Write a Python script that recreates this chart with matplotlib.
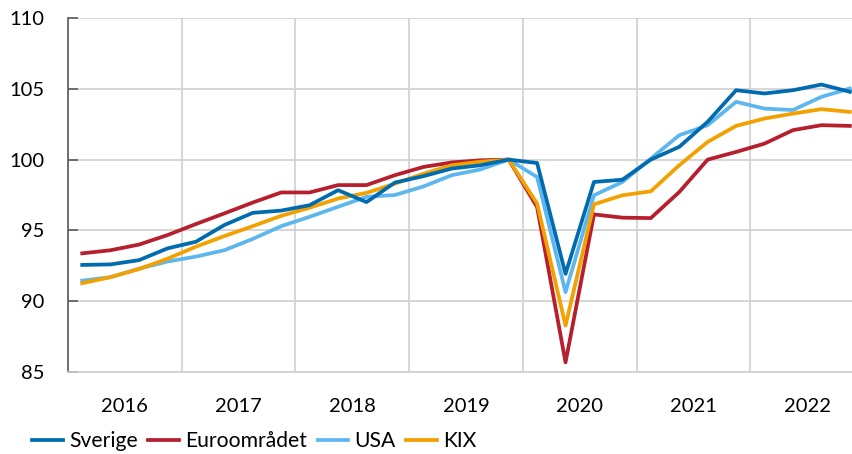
import matplotlib
matplotlib.use("Agg")
import matplotlib.pyplot as plt
import numpy as np

plt.rcParams['font.family'] = ['Lato', 'DejaVu Sans']

# quarterly index, 2019Q4 = 100, 2016Q1 - 2022Q4
years = ['2016', '2017', '2018', '2019', '2020', '2021', '2022']
sverige = [92.56, 92.6, 92.9, 93.73, 94.2, 95.38, 96.24, 96.4, 96.78, 97.84, 97.0, 98.38,
           98.83, 99.37, 99.6, 100.0, 99.76, 91.93, 98.42, 98.58, 100.0, 100.9, 102.67, 104.9,
           104.67, 104.9, 105.3, 104.79]
euro = [93.38, 93.6, 94.0, 94.67, 95.45, 96.2, 96.97, 97.68, 97.68, 98.2, 98.2, 98.9,
        99.48, 99.8, 99.95, 100.0, 96.65, 85.68, 96.13, 95.9, 95.87, 97.71, 100.0, 100.54,
        101.13, 102.08, 102.43, 102.38]
usa = [91.45, 91.7, 92.3, 92.8, 93.15, 93.6, 94.4, 95.3, 95.96, 96.67, 97.37, 97.5,
       98.1, 98.9, 99.3, 100.0, 98.77, 90.64, 97.48, 98.42, 100.07, 101.72, 102.43, 104.08,
       103.6, 103.5, 104.43, 105.02]
kix = [91.27, 91.7, 92.27, 93.0, 93.85, 94.6, 95.3, 96.03, 96.6, 97.25, 97.65, 98.3,
       99.0, 99.6, 99.85, 100.0, 96.9, 88.28, 96.84, 97.48, 97.76, 99.6, 101.25, 102.38,
       102.9, 103.25, 103.56, 103.37]

x = np.arange(len(sverige)) + 0.5

fig = plt.figure(figsize=(8.53, 4.54), dpi=100)
ax = fig.add_axes([68 / 853, 1 - 372 / 454, (28 * 28.43) / 853, (372 - 18) / 454])

lw = 2.7
l_eu, = ax.plot(x, euro, color='#B61F2E', lw=lw, label='Euroområdet', zorder=3)
l_us, = ax.plot(x, usa, color='#5EB6EE', lw=lw, label='USA', zorder=3)
l_kix, = ax.plot(x, kix, color='#F3A100', lw=lw, label='KIX', zorder=3)
l_se, = ax.plot(x, sverige, color='#006BAE', lw=lw, label='Sverige', zorder=4)

ax.set_xlim(0, 28)
ax.set_ylim(85, 110)
ax.set_yticks([85, 90, 95, 100, 105, 110])

# gridlines at year boundaries, labels at year centres
ax.set_xticks(np.arange(0, 29, 4))
ax.set_xticklabels([])
ax.set_xticks(np.arange(2, 28, 4), minor=True)
ax.set_xticklabels(years, minor=True)
ax.tick_params(axis='x', which='both', length=0)
ax.tick_params(axis='x', which='minor', pad=19, labelsize=14.5, colors='black')
ax.tick_params(axis='y', direction='in', length=7.5, width=1.2, color='#595959',
               pad=17, labelsize=14.5)

ax.grid(True, which='major', color='#D0D0D0', lw=1.2)
ax.set_axisbelow(True)
for s in ['top', 'right']:
    ax.spines[s].set_visible(False)
ax.spines['left'].set_color('#595959')
ax.spines['left'].set_linewidth(1.2)
ax.spines['bottom'].set_color('#D0D0D0')
ax.spines['bottom'].set_linewidth(1.2)

fig.legend(handles=[l_se, l_eu, l_us, l_kix], loc='center left',
           bbox_to_anchor=(32 / 853, 1 - 441 / 454), ncol=4, frameon=False,
           fontsize=15.2, handlelength=1.45, handletextpad=0.3, columnspacing=0.5,
           borderaxespad=0, borderpad=0)

fig.savefig('out.png', dpi=100)
